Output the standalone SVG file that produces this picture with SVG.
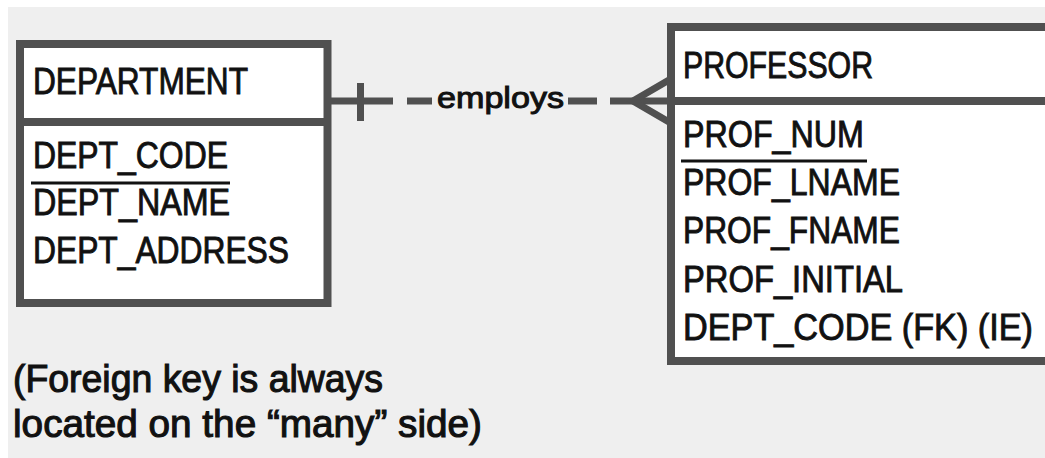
<svg xmlns="http://www.w3.org/2000/svg" width="1045" height="458" viewBox="0 0 1045 458">
  <style>
    .box { fill: #ffffff; stroke: #505050; stroke-width: 8; }
    .div { stroke: #505050; stroke-width: 8; }
    .t { font-family: "Liberation Sans", Arial, sans-serif; font-size: 36px; fill: #111111; stroke: #111111; stroke-width: 0.9; }
    .lab { font-family: "Liberation Sans", Arial, sans-serif; font-size: 30px; fill: #111111; stroke: #111111; stroke-width: 1; }
    .note { font-family: "Liberation Sans", Arial, sans-serif; font-size: 38px; fill: #111111; stroke: #111111; stroke-width: 1.1; }
    .ul { stroke: #111111; stroke-width: 3; }
    .c { stroke: #505050; stroke-width: 7; fill: none; }
  </style>
  <rect x="0" y="0" width="1045" height="458" fill="#ffffff"/>
  <rect x="8" y="7" width="1037" height="451" fill="#efefef"/>

  <g id="connectors">
    <line class="c" x1="331" y1="101" x2="393" y2="101"/>
    <line class="c" x1="360.5" y1="83" x2="360.5" y2="121"/>
    <line class="c" x1="407" y1="101" x2="432" y2="101"/>
    <line class="c" x1="568" y1="101" x2="597" y2="101"/>
    <line class="c" x1="610" y1="101" x2="669" y2="101"/>
    <polyline class="c" points="669,80 633,101 669,122"/>
    <text class="lab" x="437" y="108" textLength="127" lengthAdjust="spacingAndGlyphs">employs</text>
  </g>

  <g id="department">
    <rect class="box" x="20" y="44" width="307.5" height="259"/>
    <line class="div" x1="20" y1="122" x2="327.5" y2="122"/>
    <text class="t" x="33" y="94" textLength="215" lengthAdjust="spacingAndGlyphs">DEPARTMENT</text>
    <text class="t" x="33" y="168" textLength="195" lengthAdjust="spacingAndGlyphs">DEPT_CODE</text>
    <line class="ul" x1="31" y1="183" x2="230" y2="183"/>
    <text class="t" x="33" y="215" textLength="197" lengthAdjust="spacingAndGlyphs">DEPT_NAME</text>
    <text class="t" x="33" y="263" textLength="256" lengthAdjust="spacingAndGlyphs">DEPT_ADDRESS</text>
  </g>

  <g id="professor">
    <rect class="box" x="671" y="27" width="380" height="334"/>
    <line class="div" x1="671" y1="101" x2="1051" y2="101"/>
    <text class="t" x="683" y="78" textLength="190" lengthAdjust="spacingAndGlyphs">PROFESSOR</text>
    <text class="t" x="683" y="147" textLength="181" lengthAdjust="spacingAndGlyphs">PROF_NUM</text>
    <line class="ul" x1="681" y1="161" x2="867" y2="161"/>
    <text class="t" x="683" y="195" textLength="217" lengthAdjust="spacingAndGlyphs">PROF_LNAME</text>
    <text class="t" x="683" y="243" textLength="217" lengthAdjust="spacingAndGlyphs">PROF_FNAME</text>
    <text class="t" x="683" y="292" textLength="220" lengthAdjust="spacingAndGlyphs">PROF_INITIAL</text>
    <text class="t" x="683" y="340" textLength="350" lengthAdjust="spacingAndGlyphs">DEPT_CODE (FK) (IE)</text>
  </g>

  <g id="note">
    <text class="note" x="13" y="392" textLength="370" lengthAdjust="spacingAndGlyphs">(Foreign key is always</text>
    <text class="note" x="13" y="437" textLength="469" lengthAdjust="spacingAndGlyphs">located on the “many” side)</text>
  </g>
</svg>
